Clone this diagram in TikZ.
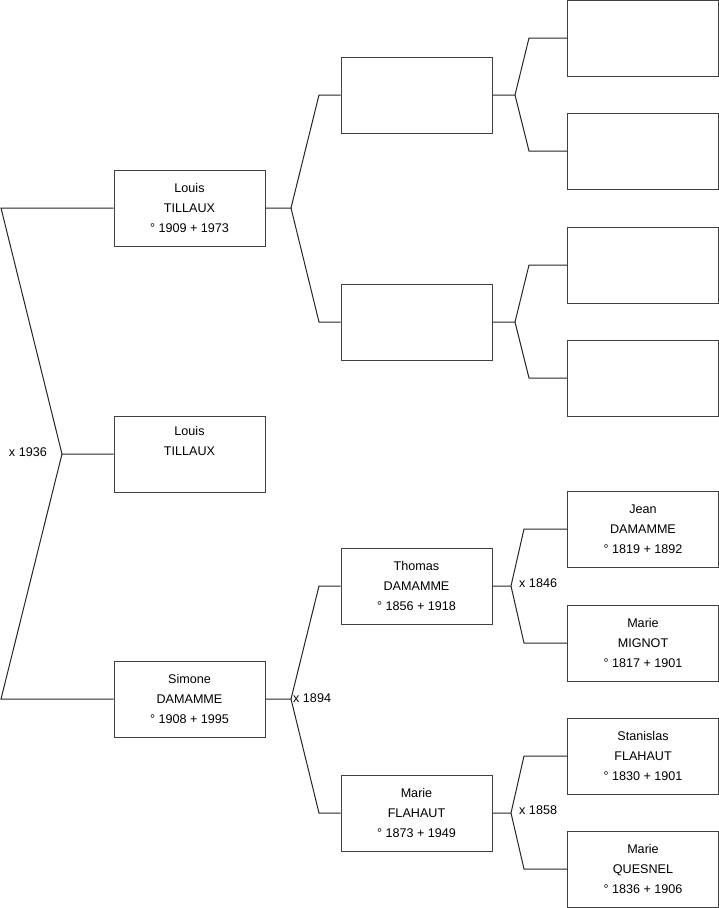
\documentclass[tikz,border=0pt]{standalone}
\usepackage{fontspec}
\setmainfont{Liberation Sans}
\begin{document}
\begin{tikzpicture}[x=1pt,y=-1pt,
  person/.style={draw=black!75, line width=1pt, fill=white, minimum width=151pt, minimum height=76pt, inner sep=0pt, align=center, font=\fontsize{12.6}{20}\selectfont},
  link/.style={draw=black!85, line width=1pt},
  lbl/.style={inner sep=0pt, font=\fontsize{12.6}{15}\selectfont}]
\useasboundingbox (0,0) rectangle (719,908);
% generation 1
\node[person] (p1) at (189.5,208) {Louis\\TILLAUX\\° 1909 + 1973};
\node[person] (p0) at (189.5,454) {Louis\\TILLAUX\\\strut};
\node[person] (p2) at (189.5,699) {Simone\\DAMAMME\\° 1908 + 1995};
% generation 2
\node[person] (q1) at (416.5,95) {};
\node[person] (q2) at (416.5,322) {};
\node[person] (q3) at (416.5,586) {Thomas\\DAMAMME\\° 1856 + 1918};
\node[person] (q4) at (416.5,813) {Marie\\FLAHAUT\\° 1873 + 1949};
% generation 3
\node[person] (r1) at (643,38) {};
\node[person] (r2) at (643,151) {};
\node[person] (r3) at (643,265) {};
\node[person] (r4) at (643,378) {};
\node[person] (r5) at (643,529) {Jean\\DAMAMME\\° 1819 + 1892};
\node[person] (r6) at (643,643) {Marie\\MIGNOT\\° 1817 + 1901};
\node[person] (r7) at (643,756) {Stanislas\\FLAHAUT\\° 1830 + 1901};
\node[person] (r8) at (643,869) {Marie\\QUESNEL\\° 1836 + 1906};
% junctions
\coordinate (j0) at (62,454);
\coordinate (a1) at (1,208);
\coordinate (a2) at (1,699);
\draw[link] (p1.west) -- (a1) -- (j0) -- (p0.west);
\draw[link] (j0) -- (a2) -- (p2.west);
\node[lbl, anchor=east] (m0) at (47,452) {x 1936};
% gen1 -> gen2
\coordinate (j1) at (291,208);
\coordinate (j2) at (291,699);
\draw[link] (p1.east) -- (j1) -- (319,95) -- (q1.west);
\draw[link] (j1) -- (319,322) -- (q2.west);
\draw[link] (p2.east) -- (j2) -- (319,586) -- (q3.west);
\draw[link] (j2) -- (319,813) -- (q4.west);
\node[lbl, anchor=west] (m1) at (293,698) {x 1894};
% gen2 -> gen3
\coordinate (k1) at (515,95);
\coordinate (k2) at (515,322);
\coordinate (k3) at (511,586);
\coordinate (k4) at (511,813);
\draw[link] (q1.east) -- (k1) -- (529,38) -- (r1.west);
\draw[link] (k1) -- (529,151) -- (r2.west);
\draw[link] (q2.east) -- (k2) -- (529,265) -- (r3.west);
\draw[link] (k2) -- (529,378) -- (r4.west);
\draw[link] (q3.east) -- (k3) -- (524,529) -- (r5.west);
\draw[link] (k3) -- (524,643) -- (r6.west);
\draw[link] (q4.east) -- (k4) -- (524,756) -- (r7.west);
\draw[link] (k4) -- (524,869) -- (r8.west);
\node[lbl, anchor=west] (m2) at (519,583) {x 1846};
\node[lbl, anchor=west] (m3) at (519,810) {x 1858};
\end{tikzpicture}
\end{document}
